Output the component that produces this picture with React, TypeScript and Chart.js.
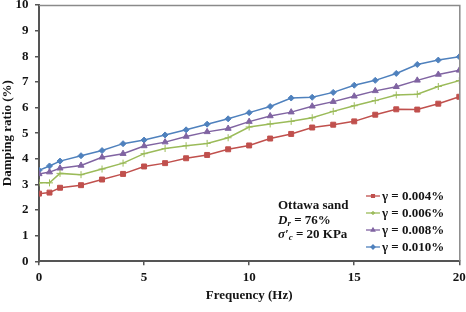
import React, { useEffect, useRef } from 'react';
import { Chart, registerables } from 'chart.js';
import { drawPoint } from 'chart.js/helpers';

Chart.register(...registerables);

// Excitation frequency (Hz)
const frequencies = [0, 0.5, 1, 2, 3, 4, 5, 6, 7, 8, 9, 10, 11, 12, 13, 14, 15, 16, 17, 18, 19, 20];

// Damping ratio (%) for each shear strain amplitude
const damping004 = [2.64, 2.68, 2.87, 2.97, 3.19, 3.41, 3.7, 3.83, 4.02, 4.15, 4.37, 4.52, 4.79, 4.97, 5.22, 5.33, 5.46, 5.72, 5.93, 5.92, 6.15, 6.42];
const damping006 = [3.06, 3.06, 3.43, 3.38, 3.6, 3.83, 4.2, 4.4, 4.51, 4.6, 4.82, 5.24, 5.36, 5.46, 5.6, 5.85, 6.07, 6.27, 6.49, 6.52, 6.82, 7.05];
const damping008 = [3.41, 3.48, 3.63, 3.74, 4.06, 4.2, 4.5, 4.65, 4.87, 5.05, 5.18, 5.45, 5.67, 5.82, 6.05, 6.23, 6.44, 6.65, 6.81, 7.06, 7.29, 7.45];
const damping010 = [3.55, 3.72, 3.91, 4.12, 4.32, 4.59, 4.73, 4.93, 5.13, 5.35, 5.56, 5.8, 6.04, 6.37, 6.4, 6.59, 6.87, 7.06, 7.33, 7.68, 7.85, 7.98];

const seriesLabels = ['γ = 0.004%', 'γ = 0.006%', 'γ = 0.008%', 'γ = 0.010%'];
const seriesValues = [damping004, damping006, damping008, damping010];
const seriesColors = ['#C0504D', '#9BBB59', '#8064A2', '#4F81BD'];
const seriesMarkers = ['rect', 'cross', 'triangle', 'rectRot'];
const seriesMarkerSizes = [3.5, 3.5, 3.5, 3];

const xTickStep = 5;
const yTickStep = 1;

const SERIF = '"Liberation Serif", "Times New Roman", serif';
const INK = '#141414';

type Seg = { text: string; font: string; dy?: number };

function drawRich(ctx: CanvasRenderingContext2D, x: number, y: number, segs: Seg[]) {
  let cx = x;
  for (const s of segs) {
    ctx.font = s.font;
    ctx.fillText(s.text, cx, y + (s.dy || 0));
    cx += ctx.measureText(s.text).width;
  }
}

const overlayPlugin = {
  id: 'overlay',
  afterDraw(chart: any) {
    const { ctx, chartArea: a } = chart;
    ctx.save();

    // plot frame on top and right
    ctx.strokeStyle = '#8a8a8a';
    ctx.lineWidth = 1.5;
    ctx.beginPath();
    ctx.moveTo(a.left, a.top + 0.5);
    ctx.lineTo(a.right + 0.5, a.top + 0.5);
    ctx.lineTo(a.right + 0.5, a.bottom);
    ctx.stroke();

    // specimen description
    ctx.fillStyle = INK;
    ctx.textAlign = 'left';
    ctx.textBaseline = 'alphabetic';
    const bold = `bold 13px ${SERIF}`;
    const boldItalic = `italic bold 13px ${SERIF}`;
    const subItalic = `italic bold 9px ${SERIF}`;
    drawRich(ctx, 278, 208.5, [{ text: 'Ottawa sand', font: bold }]);
    drawRich(ctx, 278, 223.5, [
      { text: 'D', font: boldItalic },
      { text: 'r', font: subItalic, dy: 2.5 },
      { text: ' = 76%', font: bold },
    ]);
    drawRich(ctx, 278, 237.5, [
      { text: 'σ', font: boldItalic },
      { text: '′', font: boldItalic },
      { text: 'c', font: subItalic, dy: 2.5 },
      { text: ' = 20 KPa', font: bold },
    ]);

    // legend
    const lx0 = 366;
    const lx1 = 380;
    chart.data.datasets.forEach((ds: any, i: number) => {
      const y = 196 + i * 17;
      ctx.strokeStyle = ds.borderColor;
      ctx.fillStyle = ds.borderColor;
      ctx.lineWidth = 1.3;
      ctx.beginPath();
      ctx.moveTo(lx0, y);
      ctx.lineTo(lx1, y);
      ctx.stroke();
      drawPoint(ctx, { pointStyle: ds.pointStyle, radius: 2, borderWidth: 1, rotation: 0 } as any, (lx0 + lx1) / 2, y);
      ctx.fillStyle = INK;
      ctx.font = bold;
      ctx.textBaseline = 'middle';
      ctx.fillText(ds.label, lx1 + 2, y + 0.5);
    });

    ctx.restore();
  },
};

export default function App() {
  const ref = useRef<HTMLCanvasElement>(null);

  useEffect(() => {
    if (!ref.current) return;
    Chart.defaults.font.family = SERIF;

    const chart = new Chart(ref.current, {
      type: 'line',
      data: {
        datasets: seriesValues.map((vals, i) => ({
          label: seriesLabels[i],
          data: frequencies.map((f, j) => ({ x: f, y: vals[j] })),
          borderColor: seriesColors[i],
          backgroundColor: seriesColors[i],
          pointBackgroundColor: seriesColors[i],
          pointBorderColor: seriesColors[i],
          pointStyle: seriesMarkers[i] as any,
          pointRadius: seriesMarkerSizes[i],
          pointBorderWidth: 1,
          borderWidth: 1.5,
          tension: 0,
          fill: false,
        })),
      },
      options: {
        responsive: false,
        animation: false,
        devicePixelRatio: 1,
        layout: { padding: { left: 0, right: 6.7, top: 1.3, bottom: 0 } },
        plugins: {
          legend: { display: false },
          tooltip: { enabled: false },
        },
        scales: {
          x: {
            type: 'linear',
            min: 0,
            max: 20,
            ticks: {
              stepSize: xTickStep,
              color: INK,
              font: { size: 13, weight: 'bold' },
              padding: 5,
              maxRotation: 0,
            },
            grid: { drawOnChartArea: false, tickLength: 4, color: '#555', lineWidth: 1.5 },
            border: { color: '#555', width: 2 },
            title: {
              display: true,
              text: 'Frequency (Hz)',
              color: INK,
              font: { size: 13, weight: 'bold' },
              padding: { top: 0, bottom: 9 },
            },
            afterFit(scale: any) {
              scale.height = 50.7;
              scale.paddingLeft = 0;
              scale.paddingRight = 0;
            },
          },
          y: {
            type: 'linear',
            min: 0,
            max: 10,
            ticks: {
              stepSize: yTickStep,
              color: INK,
              font: { size: 13, weight: 'bold' },
              padding: 6.5,
            },
            grid: { drawOnChartArea: false, tickLength: 4, color: '#555', lineWidth: 1.5 },
            border: { color: '#555', width: 2 },
            title: {
              display: true,
              text: 'Damping ratio (%)',
              color: INK,
              font: { size: 13, weight: 'bold' },
              padding: { top: 0, bottom: 0 },
            },
            afterFit(scale: any) {
              scale.width = 39;
              scale.paddingTop = 0;
              scale.paddingBottom = 0;
            },
          },
        },
      },
      plugins: [overlayPlugin],
    });

    return () => chart.destroy();
  }, []);

  return (
    <div style={{ position: 'fixed', left: 0, top: 0, width: 466, height: 312, background: '#fff' }}>
      <canvas ref={ref} width={466} height={312} style={{ display: 'block' }} />
    </div>
  );
}
